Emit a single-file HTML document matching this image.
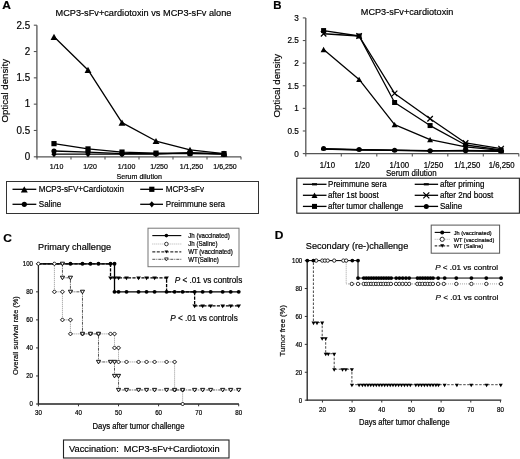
<!DOCTYPE html>
<html><head><meta charset="utf-8"><style>
html,body{margin:0;padding:0;background:#fff;}
svg{display:block;will-change:transform;filter:blur(0.35px);}
text{font-family:"Liberation Sans",sans-serif;stroke:#000;stroke-width:0.18px;}
</style></head><body>
<svg width="520" height="459" viewBox="0 0 520 459" font-family="Liberation Sans, sans-serif">
<rect width="520" height="459" fill="#fff"/>
<text transform="translate(2.2,9.3) scale(1.13,1)" font-size="10.6" font-weight="bold">A</text>
<text x="55.5" y="15.9" font-size="9.2" text-anchor="start" fill="#000" >MCP3-sFv+cardiotoxin vs MCP3-sFv alone</text>
<line x1="36.9" y1="25.2" x2="36.9" y2="157.3" stroke="#555" stroke-width="1.3" />
<line x1="36.3" y1="156.8" x2="241" y2="156.8" stroke="#555" stroke-width="1.3" />
<line x1="33.8" y1="156.8" x2="36.9" y2="156.8" stroke="#555" stroke-width="1.1" />
<text transform="translate(30.2,160.1) scale(1,1.08)" font-size="9.8" text-anchor="end">0</text>
<line x1="33.8" y1="130.48" x2="36.9" y2="130.48" stroke="#555" stroke-width="1.1" />
<text transform="translate(30.2,133.78) scale(1,1.08)" font-size="9.8" text-anchor="end">0.5</text>
<line x1="33.8" y1="104.16" x2="36.9" y2="104.16" stroke="#555" stroke-width="1.1" />
<text transform="translate(30.2,107.46) scale(1,1.08)" font-size="9.8" text-anchor="end">1</text>
<line x1="33.8" y1="77.84" x2="36.9" y2="77.84" stroke="#555" stroke-width="1.1" />
<text transform="translate(30.2,81.14) scale(1,1.08)" font-size="9.8" text-anchor="end">1.5</text>
<line x1="33.8" y1="51.52" x2="36.9" y2="51.52" stroke="#555" stroke-width="1.1" />
<text transform="translate(30.2,54.82) scale(1,1.08)" font-size="9.8" text-anchor="end">2</text>
<line x1="33.8" y1="25.2" x2="36.9" y2="25.2" stroke="#555" stroke-width="1.1" />
<text transform="translate(30.2,28.5) scale(1,1.08)" font-size="9.8" text-anchor="end">2.5</text>
<line x1="37" y1="156.8" x2="37" y2="159.6" stroke="#555" stroke-width="1.1" />
<line x1="71" y1="156.8" x2="71" y2="159.6" stroke="#555" stroke-width="1.1" />
<line x1="105" y1="156.8" x2="105" y2="159.6" stroke="#555" stroke-width="1.1" />
<line x1="139" y1="156.8" x2="139" y2="159.6" stroke="#555" stroke-width="1.1" />
<line x1="173" y1="156.8" x2="173" y2="159.6" stroke="#555" stroke-width="1.1" />
<line x1="207" y1="156.8" x2="207" y2="159.6" stroke="#555" stroke-width="1.1" />
<line x1="241" y1="156.8" x2="241" y2="159.6" stroke="#555" stroke-width="1.1" />
<text transform="translate(56.6,169) scale(1,1.08)" font-size="7" text-anchor="middle" fill="#000" >1/10</text>
<text transform="translate(90.1,169) scale(1,1.08)" font-size="7" text-anchor="middle" fill="#000" >1/20</text>
<text transform="translate(126.6,169) scale(1,1.08)" font-size="7" text-anchor="middle" fill="#000" >1/100</text>
<text transform="translate(159.1,169) scale(1,1.08)" font-size="7" text-anchor="middle" fill="#000" >1/250</text>
<text transform="translate(191.4,169) scale(1,1.08)" font-size="7" text-anchor="middle" fill="#000" >1/1,250</text>
<text transform="translate(225,169) scale(1,1.08)" font-size="7" text-anchor="middle" fill="#000" >1/6,250</text>
<text transform="translate(139.2,178.6) scale(1,1.12)" font-size="7.1" text-anchor="middle" fill="#000" >Serum dilution</text>
<text transform="translate(7.6,90.8) rotate(-90)" font-size="9.7" text-anchor="middle">Optical density</text>
<polyline points="54,154.17 88,154.17 122,154.17 156,154.17 190,152.59 224,154.17" fill="none" stroke="#000" stroke-width="1.3" stroke-linejoin="round" />
<polyline points="54,151.01 88,152.06 122,153.64 156,153.64 190,153.64 224,154.17" fill="none" stroke="#000" stroke-width="1.3" stroke-linejoin="round" />
<polyline points="54,143.64 88,148.9 122,152.06 156,153.12 190,153.12 224,153.64" fill="none" stroke="#000" stroke-width="1.3" stroke-linejoin="round" />
<polyline points="54,36.78 88,69.94 122,122.58 156,141.01 190,149.96 224,153.64" fill="none" stroke="#000" stroke-width="1.3" stroke-linejoin="round" />
<path d="M54,151.05L56.6,154.17L54,157.29L51.4,154.17Z" fill="#000" stroke="none" stroke-width="1"/>
<path d="M88,151.05L90.6,154.17L88,157.29L85.4,154.17Z" fill="#000" stroke="none" stroke-width="1"/>
<path d="M122,151.05L124.6,154.17L122,157.29L119.4,154.17Z" fill="#000" stroke="none" stroke-width="1"/>
<path d="M156,151.05L158.6,154.17L156,157.29L153.4,154.17Z" fill="#000" stroke="none" stroke-width="1"/>
<path d="M190,149.47L192.6,152.59L190,155.71L187.4,152.59Z" fill="#000" stroke="none" stroke-width="1"/>
<path d="M224,151.05L226.6,154.17L224,157.29L221.4,154.17Z" fill="#000" stroke="none" stroke-width="1"/>
<circle cx="54" cy="151.01" r="2.6" fill="#000" stroke="none" stroke-width="1"/>
<circle cx="88" cy="152.06" r="2.6" fill="#000" stroke="none" stroke-width="1"/>
<circle cx="122" cy="153.64" r="2.6" fill="#000" stroke="none" stroke-width="1"/>
<circle cx="156" cy="153.64" r="2.6" fill="#000" stroke="none" stroke-width="1"/>
<circle cx="190" cy="153.64" r="2.6" fill="#000" stroke="none" stroke-width="1"/>
<circle cx="224" cy="154.17" r="2.6" fill="#000" stroke="none" stroke-width="1"/>
<path d="M54,33.68L57.45,39.89L50.55,39.89Z" fill="#000" stroke="none" stroke-width="1"/>
<path d="M88,66.84L91.45,73.05L84.55,73.05Z" fill="#000" stroke="none" stroke-width="1"/>
<path d="M122,119.48L125.45,125.69L118.55,125.69Z" fill="#000" stroke="none" stroke-width="1"/>
<path d="M156,137.9L159.45,144.11L152.55,144.11Z" fill="#000" stroke="none" stroke-width="1"/>
<path d="M190,146.85L193.45,153.06L186.55,153.06Z" fill="#000" stroke="none" stroke-width="1"/>
<path d="M224,150.54L227.45,156.75L220.55,156.75Z" fill="#000" stroke="none" stroke-width="1"/>
<rect x="51.4" y="141.04" width="5.2" height="5.2" fill="#000" stroke="none" stroke-width="1"/>
<rect x="85.4" y="146.3" width="5.2" height="5.2" fill="#000" stroke="none" stroke-width="1"/>
<rect x="119.4" y="149.46" width="5.2" height="5.2" fill="#000" stroke="none" stroke-width="1"/>
<rect x="153.4" y="150.52" width="5.2" height="5.2" fill="#000" stroke="none" stroke-width="1"/>
<rect x="187.4" y="150.52" width="5.2" height="5.2" fill="#000" stroke="none" stroke-width="1"/>
<rect x="221.4" y="151.04" width="5.2" height="5.2" fill="#000" stroke="none" stroke-width="1"/>
<rect x="6.5" y="181.5" width="252" height="32" fill="none" stroke="#333" stroke-width="1"/>
<line x1="12.5" y1="189.3" x2="36.3" y2="189.3" stroke="#000" stroke-width="1.3" />
<path d="M24.3,186.2L27.75,192.41L20.85,192.41Z" fill="#000" stroke="none" stroke-width="1"/>
<text transform="translate(38.8,192) scale(1,1.12)" font-size="8.1" text-anchor="start" fill="#000" >MCP3-sFV+Cardiotoxin</text>
<line x1="140.2" y1="189.3" x2="163" y2="189.3" stroke="#000" stroke-width="1.3" />
<rect x="149.2" y="186.7" width="5.2" height="5.2" fill="#000" stroke="none" stroke-width="1"/>
<text transform="translate(165.8,192) scale(1,1.12)" font-size="8.1" text-anchor="start" fill="#000" >MCP3-sFv</text>
<line x1="12.5" y1="204.3" x2="36.3" y2="204.3" stroke="#000" stroke-width="1.3" />
<circle cx="24.3" cy="204.3" r="2.6" fill="#000" stroke="none" stroke-width="1"/>
<text transform="translate(38.8,207) scale(1,1.12)" font-size="8.1" text-anchor="start" fill="#000" >Saline</text>
<line x1="140.2" y1="204.3" x2="163" y2="204.3" stroke="#000" stroke-width="1.3" />
<path d="M151.8,201.18L154.4,204.3L151.8,207.42L149.2,204.3Z" fill="#000" stroke="none" stroke-width="1"/>
<text transform="translate(165.8,207) scale(1,1.12)" font-size="8.1" text-anchor="start" fill="#000" >Preimmune sera</text>
<text transform="translate(273.2,8.6) scale(1.1,1)" font-size="10.4" font-weight="bold">B</text>
<text x="360.8" y="15.4" font-size="9.15" text-anchor="start" fill="#000" >MCP3-sFv+cardiotoxin</text>
<line x1="305.8" y1="17.91" x2="305.8" y2="154.1" stroke="#555" stroke-width="1.3" />
<line x1="305.2" y1="153.6" x2="518.8" y2="153.6" stroke="#555" stroke-width="1.3" />
<line x1="302.8" y1="153.6" x2="305.8" y2="153.6" stroke="#555" stroke-width="1.1" />
<text x="298.9" y="156.5" font-size="8.2" text-anchor="end" fill="#000" >0</text>
<line x1="302.8" y1="130.98" x2="305.8" y2="130.98" stroke="#555" stroke-width="1.1" />
<text x="298.9" y="133.88" font-size="8.2" text-anchor="end" fill="#000" >0.5</text>
<line x1="302.8" y1="108.37" x2="305.8" y2="108.37" stroke="#555" stroke-width="1.1" />
<text x="298.9" y="111.27" font-size="8.2" text-anchor="end" fill="#000" >1</text>
<line x1="302.8" y1="85.75" x2="305.8" y2="85.75" stroke="#555" stroke-width="1.1" />
<text x="298.9" y="88.66" font-size="8.2" text-anchor="end" fill="#000" >1.5</text>
<line x1="302.8" y1="63.14" x2="305.8" y2="63.14" stroke="#555" stroke-width="1.1" />
<text x="298.9" y="66.04" font-size="8.2" text-anchor="end" fill="#000" >2</text>
<line x1="302.8" y1="40.53" x2="305.8" y2="40.53" stroke="#555" stroke-width="1.1" />
<text x="298.9" y="43.43" font-size="8.2" text-anchor="end" fill="#000" >2.5</text>
<line x1="302.8" y1="17.91" x2="305.8" y2="17.91" stroke="#555" stroke-width="1.1" />
<text x="298.9" y="20.81" font-size="8.2" text-anchor="end" fill="#000" >3</text>
<line x1="305.8" y1="153.6" x2="305.8" y2="156.4" stroke="#555" stroke-width="1.1" />
<line x1="341.3" y1="153.6" x2="341.3" y2="156.4" stroke="#555" stroke-width="1.1" />
<line x1="376.8" y1="153.6" x2="376.8" y2="156.4" stroke="#555" stroke-width="1.1" />
<line x1="412.3" y1="153.6" x2="412.3" y2="156.4" stroke="#555" stroke-width="1.1" />
<line x1="447.8" y1="153.6" x2="447.8" y2="156.4" stroke="#555" stroke-width="1.1" />
<line x1="483.3" y1="153.6" x2="483.3" y2="156.4" stroke="#555" stroke-width="1.1" />
<line x1="518.8" y1="153.6" x2="518.8" y2="156.4" stroke="#555" stroke-width="1.1" />
<text transform="translate(327.4,167.9) scale(1,1.1)" font-size="7.8" text-anchor="middle" fill="#000" >1/10</text>
<text transform="translate(362.2,167.9) scale(1,1.1)" font-size="7.8" text-anchor="middle" fill="#000" >1/20</text>
<text transform="translate(399.3,167.9) scale(1,1.1)" font-size="7.8" text-anchor="middle" fill="#000" >1/100</text>
<text transform="translate(433.5,167.9) scale(1,1.1)" font-size="7.8" text-anchor="middle" fill="#000" >1/250</text>
<text transform="translate(467.3,167.9) scale(1,1.1)" font-size="7.8" text-anchor="middle" fill="#000" >1/1,250</text>
<text transform="translate(501.7,167.9) scale(1,1.1)" font-size="7.8" text-anchor="middle" fill="#000" >1/6,250</text>
<text transform="translate(411.3,175.9) scale(1,1.1)" font-size="7.9" text-anchor="middle" fill="#000" >Serum dilution</text>
<text transform="translate(279.6,85.8) rotate(-90)" font-size="9.7" text-anchor="middle">Optical density</text>
<polyline points="323.6,149.08 359.1,149.53 394.6,150.43 430.1,150.89 465.6,150.89 501.1,151.34" fill="none" stroke="#000" stroke-width="1.3" stroke-linejoin="round" />
<polyline points="323.6,149.08 359.1,149.98 394.6,150.43 430.1,150.89 465.6,150.43 501.1,150.89" fill="none" stroke="#000" stroke-width="1.3" stroke-linejoin="round" />
<polyline points="323.6,148.62 359.1,149.53 394.6,150.21 430.1,150.66 465.6,150.66 501.1,150.89" fill="none" stroke="#000" stroke-width="1.3" stroke-linejoin="round" />
<polyline points="323.6,49.57 359.1,79.42 394.6,124.65 430.1,139.58 465.6,146.82 501.1,150.43" fill="none" stroke="#000" stroke-width="1.3" stroke-linejoin="round" />
<polyline points="323.6,30.57 359.1,36 394.6,102.49 430.1,125.56 465.6,145.01 501.1,149.98" fill="none" stroke="#000" stroke-width="1.3" stroke-linejoin="round" />
<polyline points="323.6,33.74 359.1,36 394.6,93.44 430.1,118.77 465.6,142.97 501.1,148.62" fill="none" stroke="#000" stroke-width="1.3" stroke-linejoin="round" />
<rect x="321.1" y="147.98" width="5" height="2.2" fill="#000" stroke="none" stroke-width="1"/>
<rect x="356.6" y="148.43" width="5" height="2.2" fill="#000" stroke="none" stroke-width="1"/>
<rect x="392.1" y="149.33" width="5" height="2.2" fill="#000" stroke="none" stroke-width="1"/>
<rect x="427.6" y="149.79" width="5" height="2.2" fill="#000" stroke="none" stroke-width="1"/>
<rect x="463.1" y="149.79" width="5" height="2.2" fill="#000" stroke="none" stroke-width="1"/>
<rect x="498.6" y="150.24" width="5" height="2.2" fill="#000" stroke="none" stroke-width="1"/>
<rect x="321.1" y="147.98" width="5" height="2.2" fill="#000" stroke="none" stroke-width="1"/>
<rect x="356.6" y="148.88" width="5" height="2.2" fill="#000" stroke="none" stroke-width="1"/>
<rect x="392.1" y="149.33" width="5" height="2.2" fill="#000" stroke="none" stroke-width="1"/>
<rect x="427.6" y="149.79" width="5" height="2.2" fill="#000" stroke="none" stroke-width="1"/>
<rect x="463.1" y="149.33" width="5" height="2.2" fill="#000" stroke="none" stroke-width="1"/>
<rect x="498.6" y="149.79" width="5" height="2.2" fill="#000" stroke="none" stroke-width="1"/>
<circle cx="323.6" cy="148.62" r="2.5" fill="#000" stroke="none" stroke-width="1"/>
<circle cx="359.1" cy="149.53" r="2.5" fill="#000" stroke="none" stroke-width="1"/>
<circle cx="394.6" cy="150.21" r="2.5" fill="#000" stroke="none" stroke-width="1"/>
<circle cx="430.1" cy="150.66" r="2.5" fill="#000" stroke="none" stroke-width="1"/>
<circle cx="465.6" cy="150.66" r="2.5" fill="#000" stroke="none" stroke-width="1"/>
<circle cx="501.1" cy="150.89" r="2.5" fill="#000" stroke="none" stroke-width="1"/>
<path d="M323.6,46.87L326.6,52.27L320.6,52.27Z" fill="#000" stroke="none" stroke-width="1"/>
<path d="M359.1,76.72L362.1,82.12L356.1,82.12Z" fill="#000" stroke="none" stroke-width="1"/>
<path d="M394.6,121.95L397.6,127.35L391.6,127.35Z" fill="#000" stroke="none" stroke-width="1"/>
<path d="M430.1,136.88L433.1,142.28L427.1,142.28Z" fill="#000" stroke="none" stroke-width="1"/>
<path d="M465.6,144.12L468.6,149.52L462.6,149.52Z" fill="#000" stroke="none" stroke-width="1"/>
<path d="M501.1,147.73L504.1,153.13L498.1,153.13Z" fill="#000" stroke="none" stroke-width="1"/>
<path d="M320.85,30.99L326.35,36.49M326.35,30.99L320.85,36.49" fill="none" stroke="#000" stroke-width="1.2"/>
<path d="M356.35,33.25L361.85,38.75M361.85,33.25L356.35,38.75" fill="none" stroke="#000" stroke-width="1.2"/>
<path d="M391.85,90.69L397.35,96.19M397.35,90.69L391.85,96.19" fill="none" stroke="#000" stroke-width="1.2"/>
<path d="M427.35,116.02L432.85,121.52M432.85,116.02L427.35,121.52" fill="none" stroke="#000" stroke-width="1.2"/>
<path d="M462.85,140.22L468.35,145.72M468.35,140.22L462.85,145.72" fill="none" stroke="#000" stroke-width="1.2"/>
<path d="M498.35,145.87L503.85,151.37M503.85,145.87L498.35,151.37" fill="none" stroke="#000" stroke-width="1.2"/>
<rect x="321.1" y="28.07" width="5" height="5" fill="#000" stroke="none" stroke-width="1"/>
<rect x="356.6" y="33.5" width="5" height="5" fill="#000" stroke="none" stroke-width="1"/>
<rect x="392.1" y="99.99" width="5" height="5" fill="#000" stroke="none" stroke-width="1"/>
<rect x="427.6" y="123.06" width="5" height="5" fill="#000" stroke="none" stroke-width="1"/>
<rect x="463.1" y="142.51" width="5" height="5" fill="#000" stroke="none" stroke-width="1"/>
<rect x="498.6" y="147.48" width="5" height="5" fill="#000" stroke="none" stroke-width="1"/>
<rect x="296.8" y="178.2" width="222.6" height="35" fill="none" stroke="#222" stroke-width="1.1"/>
<line x1="302.9" y1="184.3" x2="326.5" y2="184.3" stroke="#000" stroke-width="1.3" />
<rect x="312" y="183.2" width="5" height="2.2" fill="#000" stroke="none" stroke-width="1"/>
<text transform="translate(328.1,187.2) scale(1,1.1)" font-size="8" text-anchor="start" fill="#000" >Preimmune sera</text>
<line x1="414.7" y1="184.3" x2="438.1" y2="184.3" stroke="#000" stroke-width="1.3" />
<rect x="423.8" y="183.2" width="5" height="2.2" fill="#000" stroke="none" stroke-width="1"/>
<text transform="translate(440,187.2) scale(1,1.1)" font-size="8" text-anchor="start" fill="#000" >after priming</text>
<line x1="302.9" y1="195.3" x2="326.5" y2="195.3" stroke="#000" stroke-width="1.3" />
<path d="M314.5,192.6L317.5,198L311.5,198Z" fill="#000" stroke="none" stroke-width="1"/>
<text transform="translate(328.1,198.2) scale(1,1.1)" font-size="8" text-anchor="start" fill="#000" >after 1st boost</text>
<line x1="414.7" y1="195.3" x2="438.1" y2="195.3" stroke="#000" stroke-width="1.3" />
<path d="M423.3,192.3L429.3,198.3M429.3,192.3L423.3,198.3" fill="none" stroke="#000" stroke-width="1.2"/>
<text transform="translate(440,198.2) scale(1,1.1)" font-size="8" text-anchor="start" fill="#000" >after 2nd boost</text>
<line x1="302.9" y1="206.4" x2="326.5" y2="206.4" stroke="#000" stroke-width="1.3" />
<rect x="312" y="203.9" width="5" height="5" fill="#000" stroke="none" stroke-width="1"/>
<text transform="translate(328.1,209.3) scale(1,1.1)" font-size="8" text-anchor="start" fill="#000" >after tumor challenge</text>
<line x1="414.7" y1="206.4" x2="438.1" y2="206.4" stroke="#000" stroke-width="1.3" />
<circle cx="426.3" cy="206.4" r="2.5" fill="#000" stroke="none" stroke-width="1"/>
<text transform="translate(440,209.3) scale(1,1.1)" font-size="8" text-anchor="start" fill="#000" >Saline</text>
<text transform="translate(3.2,242.4) scale(1.13,1)" font-size="10.6" font-weight="bold">C</text>
<text x="38.1" y="250.4" font-size="9.13" text-anchor="start" fill="#000" >Primary challenge</text>
<line x1="38.4" y1="263.8" x2="38.4" y2="404.6" stroke="#222" stroke-width="1.3" />
<line x1="37.8" y1="404" x2="238.9" y2="404" stroke="#222" stroke-width="1.3" />
<line x1="36" y1="404" x2="38.4" y2="404" stroke="#333" stroke-width="1" />
<text transform="translate(33,406.3) scale(1,1.12)" font-size="6.1" text-anchor="end">0</text>
<line x1="36" y1="375.96" x2="38.4" y2="375.96" stroke="#333" stroke-width="1" />
<text transform="translate(33,378.26) scale(1,1.12)" font-size="6.1" text-anchor="end">20</text>
<line x1="36" y1="347.92" x2="38.4" y2="347.92" stroke="#333" stroke-width="1" />
<text transform="translate(33,350.22) scale(1,1.12)" font-size="6.1" text-anchor="end">40</text>
<line x1="36" y1="319.88" x2="38.4" y2="319.88" stroke="#333" stroke-width="1" />
<text transform="translate(33,322.18) scale(1,1.12)" font-size="6.1" text-anchor="end">60</text>
<line x1="36" y1="291.84" x2="38.4" y2="291.84" stroke="#333" stroke-width="1" />
<text transform="translate(33,294.14) scale(1,1.12)" font-size="6.1" text-anchor="end">80</text>
<line x1="36" y1="263.8" x2="38.4" y2="263.8" stroke="#333" stroke-width="1" />
<text transform="translate(33,266.1) scale(1,1.12)" font-size="6.1" text-anchor="end">100</text>
<line x1="38.4" y1="404" x2="38.4" y2="406.3" stroke="#333" stroke-width="1" />
<text transform="translate(38.4,415.3) scale(1,1.12)" font-size="6.2" text-anchor="middle">30</text>
<line x1="78.46" y1="404" x2="78.46" y2="406.3" stroke="#333" stroke-width="1" />
<text transform="translate(78.46,415.3) scale(1,1.12)" font-size="6.2" text-anchor="middle">40</text>
<line x1="118.52" y1="404" x2="118.52" y2="406.3" stroke="#333" stroke-width="1" />
<text transform="translate(118.52,415.3) scale(1,1.12)" font-size="6.2" text-anchor="middle">50</text>
<line x1="158.58" y1="404" x2="158.58" y2="406.3" stroke="#333" stroke-width="1" />
<text transform="translate(158.58,415.3) scale(1,1.12)" font-size="6.2" text-anchor="middle">60</text>
<line x1="198.64" y1="404" x2="198.64" y2="406.3" stroke="#333" stroke-width="1" />
<text transform="translate(198.64,415.3) scale(1,1.12)" font-size="6.2" text-anchor="middle">70</text>
<line x1="238.7" y1="404" x2="238.7" y2="406.3" stroke="#333" stroke-width="1" />
<text transform="translate(238.7,415.3) scale(1,1.12)" font-size="6.2" text-anchor="middle">80</text>
<text transform="translate(138.5,428.5) scale(1,1.18)" font-size="7.7" text-anchor="middle" fill="#000" >Days after tumor challenge</text>
<text transform="translate(18.4,335.6) rotate(-90)" font-size="7.4" text-anchor="middle">Overall survival rate (%)</text>
<polyline points="38.4,263.8 54.42,263.8 54.42,291.84 62.44,291.84 62.44,319.88 70.45,319.88 70.45,333.9 114.51,333.9 114.51,347.92 118.52,347.92 118.52,361.94 174.6,361.94 174.6,389.98 182.62,389.98 182.62,404 182.62,404" fill="none" stroke="#888" stroke-width="0.9" stroke-linejoin="round" stroke-dasharray="1,1"/>
<polyline points="38.4,263.8 62.44,263.8 62.44,277.82 70.45,277.82 70.45,291.84 82.47,291.84 82.47,333.9 98.49,333.9 98.49,361.94 114.51,361.94 114.51,375.96 118.52,375.96 118.52,389.98 238.7,389.98" fill="none" stroke="#444" stroke-width="0.9" stroke-linejoin="round" stroke-dasharray="3,1,1,1"/>
<polyline points="38.4,263.8 110.51,263.8 110.51,277.82 166.59,277.82 166.59,291.84 194.63,291.84 194.63,305.86 238.7,305.86" fill="none" stroke="#000" stroke-width="1.3" stroke-linejoin="round" stroke-dasharray="3.2,1.3"/>
<polyline points="38.4,263.8 114.51,263.8 114.51,291.84 238.7,291.84" fill="none" stroke="#000" stroke-width="1.3" stroke-linejoin="round" />
<path d="M38.4,261.8L40.4,263.8L38.4,265.8L36.4,263.8Z" fill="#fff" stroke="#111" stroke-width="1.0"/>
<path d="M54.42,261.8L56.42,263.8L54.42,265.8L52.42,263.8Z" fill="#fff" stroke="#111" stroke-width="1.0"/>
<path d="M54.42,289.84L56.42,291.84L54.42,293.84L52.42,291.84Z" fill="#fff" stroke="#111" stroke-width="1.0"/>
<path d="M62.44,289.84L64.44,291.84L62.44,293.84L60.44,291.84Z" fill="#fff" stroke="#111" stroke-width="1.0"/>
<path d="M62.44,317.88L64.44,319.88L62.44,321.88L60.44,319.88Z" fill="#fff" stroke="#111" stroke-width="1.0"/>
<path d="M70.45,317.88L72.45,319.88L70.45,321.88L68.45,319.88Z" fill="#fff" stroke="#111" stroke-width="1.0"/>
<path d="M70.45,331.9L72.45,333.9L70.45,335.9L68.45,333.9Z" fill="#fff" stroke="#111" stroke-width="1.0"/>
<path d="M82.47,331.9L84.47,333.9L82.47,335.9L80.47,333.9Z" fill="#fff" stroke="#111" stroke-width="1.0"/>
<path d="M90.48,331.9L92.48,333.9L90.48,335.9L88.48,333.9Z" fill="#fff" stroke="#111" stroke-width="1.0"/>
<path d="M98.49,331.9L100.49,333.9L98.49,335.9L96.49,333.9Z" fill="#fff" stroke="#111" stroke-width="1.0"/>
<path d="M110.51,331.9L112.51,333.9L110.51,335.9L108.51,333.9Z" fill="#fff" stroke="#111" stroke-width="1.0"/>
<path d="M114.51,331.9L116.51,333.9L114.51,335.9L112.51,333.9Z" fill="#fff" stroke="#111" stroke-width="1.0"/>
<path d="M114.51,345.92L116.51,347.92L114.51,349.92L112.51,347.92Z" fill="#fff" stroke="#111" stroke-width="1.0"/>
<path d="M118.52,345.92L120.52,347.92L118.52,349.92L116.52,347.92Z" fill="#fff" stroke="#111" stroke-width="1.0"/>
<path d="M118.52,359.94L120.52,361.94L118.52,363.94L116.52,361.94Z" fill="#fff" stroke="#111" stroke-width="1.0"/>
<path d="M126.53,359.94L128.53,361.94L126.53,363.94L124.53,361.94Z" fill="#fff" stroke="#111" stroke-width="1.0"/>
<path d="M138.55,359.94L140.55,361.94L138.55,363.94L136.55,361.94Z" fill="#fff" stroke="#111" stroke-width="1.0"/>
<path d="M146.56,359.94L148.56,361.94L146.56,363.94L144.56,361.94Z" fill="#fff" stroke="#111" stroke-width="1.0"/>
<path d="M154.57,359.94L156.57,361.94L154.57,363.94L152.57,361.94Z" fill="#fff" stroke="#111" stroke-width="1.0"/>
<path d="M166.59,359.94L168.59,361.94L166.59,363.94L164.59,361.94Z" fill="#fff" stroke="#111" stroke-width="1.0"/>
<path d="M174.6,359.94L176.6,361.94L174.6,363.94L172.6,361.94Z" fill="#fff" stroke="#111" stroke-width="1.0"/>
<path d="M174.6,387.98L176.6,389.98L174.6,391.98L172.6,389.98Z" fill="#fff" stroke="#111" stroke-width="1.0"/>
<path d="M182.62,387.98L184.62,389.98L182.62,391.98L180.62,389.98Z" fill="#fff" stroke="#111" stroke-width="1.0"/>
<path d="M182.62,402L184.62,404L182.62,406L180.62,404Z" fill="#fff" stroke="#111" stroke-width="1.0"/>
<path d="M62.44,265.76L64.54,262.19L60.34,262.19Z" fill="#fff" stroke="#111" stroke-width="1.0"/>
<path d="M62.44,279.78L64.54,276.21L60.34,276.21Z" fill="#fff" stroke="#111" stroke-width="1.0"/>
<path d="M70.45,279.78L72.55,276.21L68.35,276.21Z" fill="#fff" stroke="#111" stroke-width="1.0"/>
<path d="M70.45,293.8L72.55,290.23L68.35,290.23Z" fill="#fff" stroke="#111" stroke-width="1.0"/>
<path d="M82.47,293.8L84.57,290.23L80.37,290.23Z" fill="#fff" stroke="#111" stroke-width="1.0"/>
<path d="M82.47,335.86L84.57,332.29L80.37,332.29Z" fill="#fff" stroke="#111" stroke-width="1.0"/>
<path d="M90.48,335.86L92.58,332.29L88.38,332.29Z" fill="#fff" stroke="#111" stroke-width="1.0"/>
<path d="M98.49,335.86L100.59,332.29L96.39,332.29Z" fill="#fff" stroke="#111" stroke-width="1.0"/>
<path d="M98.49,363.9L100.59,360.33L96.39,360.33Z" fill="#fff" stroke="#111" stroke-width="1.0"/>
<path d="M110.51,363.9L112.61,360.33L108.41,360.33Z" fill="#fff" stroke="#111" stroke-width="1.0"/>
<path d="M114.51,363.9L116.61,360.33L112.41,360.33Z" fill="#fff" stroke="#111" stroke-width="1.0"/>
<path d="M114.51,377.92L116.61,374.35L112.41,374.35Z" fill="#fff" stroke="#111" stroke-width="1.0"/>
<path d="M118.52,377.92L120.62,374.35L116.42,374.35Z" fill="#fff" stroke="#111" stroke-width="1.0"/>
<path d="M118.52,391.94L120.62,388.37L116.42,388.37Z" fill="#fff" stroke="#111" stroke-width="1.0"/>
<path d="M126.53,391.94L128.63,388.37L124.43,388.37Z" fill="#fff" stroke="#111" stroke-width="1.0"/>
<path d="M138.55,391.94L140.65,388.37L136.45,388.37Z" fill="#fff" stroke="#111" stroke-width="1.0"/>
<path d="M146.56,391.94L148.66,388.37L144.46,388.37Z" fill="#fff" stroke="#111" stroke-width="1.0"/>
<path d="M154.57,391.94L156.67,388.37L152.47,388.37Z" fill="#fff" stroke="#111" stroke-width="1.0"/>
<path d="M166.59,391.94L168.69,388.37L164.49,388.37Z" fill="#fff" stroke="#111" stroke-width="1.0"/>
<path d="M174.6,391.94L176.7,388.37L172.5,388.37Z" fill="#fff" stroke="#111" stroke-width="1.0"/>
<path d="M182.62,391.94L184.72,388.37L180.52,388.37Z" fill="#fff" stroke="#111" stroke-width="1.0"/>
<path d="M194.63,391.94L196.73,388.37L192.53,388.37Z" fill="#fff" stroke="#111" stroke-width="1.0"/>
<path d="M202.65,391.94L204.75,388.37L200.55,388.37Z" fill="#fff" stroke="#111" stroke-width="1.0"/>
<path d="M210.66,391.94L212.76,388.37L208.56,388.37Z" fill="#fff" stroke="#111" stroke-width="1.0"/>
<path d="M222.68,391.94L224.78,388.37L220.58,388.37Z" fill="#fff" stroke="#111" stroke-width="1.0"/>
<path d="M230.69,391.94L232.79,388.37L228.59,388.37Z" fill="#fff" stroke="#111" stroke-width="1.0"/>
<path d="M238.7,391.94L240.8,388.37L236.6,388.37Z" fill="#fff" stroke="#111" stroke-width="1.0"/>
<path d="M110.51,280.14L112.81,276.46L108.21,276.46Z" fill="#000" stroke="none" stroke-width="1"/>
<path d="M114.51,280.14L116.81,276.46L112.21,276.46Z" fill="#000" stroke="none" stroke-width="1"/>
<path d="M118.52,280.14L120.82,276.46L116.22,276.46Z" fill="#000" stroke="none" stroke-width="1"/>
<path d="M126.53,280.14L128.83,276.46L124.23,276.46Z" fill="#000" stroke="none" stroke-width="1"/>
<path d="M138.55,280.14L140.85,276.46L136.25,276.46Z" fill="#000" stroke="none" stroke-width="1"/>
<path d="M146.56,280.14L148.86,276.46L144.26,276.46Z" fill="#000" stroke="none" stroke-width="1"/>
<path d="M154.57,280.14L156.87,276.46L152.27,276.46Z" fill="#000" stroke="none" stroke-width="1"/>
<path d="M166.59,280.14L168.89,276.46L164.29,276.46Z" fill="#000" stroke="none" stroke-width="1"/>
<path d="M194.63,308.18L196.93,304.5L192.33,304.5Z" fill="#000" stroke="none" stroke-width="1"/>
<path d="M202.65,308.18L204.95,304.5L200.35,304.5Z" fill="#000" stroke="none" stroke-width="1"/>
<path d="M210.66,308.18L212.96,304.5L208.36,304.5Z" fill="#000" stroke="none" stroke-width="1"/>
<path d="M222.68,308.18L224.98,304.5L220.38,304.5Z" fill="#000" stroke="none" stroke-width="1"/>
<path d="M230.69,308.18L232.99,304.5L228.39,304.5Z" fill="#000" stroke="none" stroke-width="1"/>
<path d="M238.7,308.18L241,304.5L236.4,304.5Z" fill="#000" stroke="none" stroke-width="1"/>
<circle cx="70.45" cy="263.8" r="1.95" fill="#000" stroke="none" stroke-width="1"/>
<circle cx="82.47" cy="263.8" r="1.95" fill="#000" stroke="none" stroke-width="1"/>
<circle cx="90.48" cy="263.8" r="1.95" fill="#000" stroke="none" stroke-width="1"/>
<circle cx="98.49" cy="263.8" r="1.95" fill="#000" stroke="none" stroke-width="1"/>
<circle cx="110.51" cy="263.8" r="1.95" fill="#000" stroke="none" stroke-width="1"/>
<circle cx="114.51" cy="263.8" r="1.95" fill="#000" stroke="none" stroke-width="1"/>
<circle cx="114.51" cy="291.84" r="1.95" fill="#000" stroke="none" stroke-width="1"/>
<circle cx="118.52" cy="291.84" r="1.95" fill="#000" stroke="none" stroke-width="1"/>
<circle cx="126.53" cy="291.84" r="1.95" fill="#000" stroke="none" stroke-width="1"/>
<circle cx="138.55" cy="291.84" r="1.95" fill="#000" stroke="none" stroke-width="1"/>
<circle cx="146.56" cy="291.84" r="1.95" fill="#000" stroke="none" stroke-width="1"/>
<circle cx="154.57" cy="291.84" r="1.95" fill="#000" stroke="none" stroke-width="1"/>
<circle cx="166.59" cy="291.84" r="1.95" fill="#000" stroke="none" stroke-width="1"/>
<circle cx="174.6" cy="291.84" r="1.95" fill="#000" stroke="none" stroke-width="1"/>
<circle cx="182.62" cy="291.84" r="1.95" fill="#000" stroke="none" stroke-width="1"/>
<circle cx="194.63" cy="291.84" r="1.95" fill="#000" stroke="none" stroke-width="1"/>
<circle cx="202.65" cy="291.84" r="1.95" fill="#000" stroke="none" stroke-width="1"/>
<circle cx="210.66" cy="291.84" r="1.95" fill="#000" stroke="none" stroke-width="1"/>
<circle cx="222.68" cy="291.84" r="1.95" fill="#000" stroke="none" stroke-width="1"/>
<circle cx="230.69" cy="291.84" r="1.95" fill="#000" stroke="none" stroke-width="1"/>
<circle cx="238.7" cy="291.84" r="1.95" fill="#000" stroke="none" stroke-width="1"/>
<rect x="148" y="228.2" width="91" height="38.5" fill="none" stroke="#777" stroke-width="1"/>
<line x1="152.3" y1="235.6" x2="181.3" y2="235.6" stroke="#000" stroke-width="1.1" />
<circle cx="166.4" cy="235.6" r="1.8" fill="#000" stroke="none" stroke-width="0.9"/>
<text transform="translate(188.2,238) scale(1,1.15)" font-size="6.15" text-anchor="start" fill="#000" >Jh (vaccinated)</text>
<line x1="152.3" y1="244" x2="181.3" y2="244" stroke="#aaa" stroke-width="0.9" stroke-dasharray="1,1"/>
<circle cx="166.4" cy="244" r="1.8" fill="#fff" stroke="#222" stroke-width="0.9"/>
<text transform="translate(188.2,246.4) scale(1,1.15)" font-size="6.15" text-anchor="start" fill="#000" >Jh (Saline)</text>
<line x1="152.3" y1="251.9" x2="181.3" y2="251.9" stroke="#000" stroke-width="1" stroke-dasharray="3,1.5"/>
<path d="M166.4,253.58L168.2,250.52L164.6,250.52Z" fill="#000" stroke="none" stroke-width="0.9"/>
<text transform="translate(188.2,254.3) scale(1,1.15)" font-size="6.15" text-anchor="start" fill="#000" >WT (vaccinated)</text>
<line x1="152.3" y1="259.3" x2="181.3" y2="259.3" stroke="#444" stroke-width="0.9" stroke-dasharray="3,1,1,1"/>
<path d="M166.4,260.98L168.2,257.92L164.6,257.92Z" fill="#fff" stroke="#222" stroke-width="0.9"/>
<text transform="translate(188.2,261.7) scale(1,1.15)" font-size="6.15" text-anchor="start" fill="#000" >WT(Saline)</text>
<text x="174.7" y="283.2" font-size="8.2"><tspan font-style="italic">P</tspan> &lt; .01 vs controls</text>
<text x="170.2" y="320.5" font-size="8.2"><tspan font-style="italic">P</tspan> &lt; .01 vs controls</text>
<rect x="63.5" y="440" width="165.5" height="18" fill="none" stroke="#222" stroke-width="1.1"/>
<text x="69" y="452.4" font-size="9.26" text-anchor="start" fill="#000" >Vaccination:&#160; MCP3-sFv+Cardiotoxin</text>
<text transform="translate(274.8,239.4) scale(1.13,1)" font-size="10.6" font-weight="bold">D</text>
<text x="305.8" y="248.9" font-size="9.15" text-anchor="start" fill="#000" >Secondary (re-)challenge</text>
<line x1="307.2" y1="260.6" x2="307.2" y2="400.8" stroke="#222" stroke-width="1.3" />
<line x1="306.6" y1="400.2" x2="501.3" y2="400.2" stroke="#222" stroke-width="1.3" />
<line x1="304.8" y1="400.2" x2="307.2" y2="400.2" stroke="#333" stroke-width="1" />
<text transform="translate(302.2,402.5) scale(1,1.12)" font-size="6.1" text-anchor="end">0</text>
<line x1="304.8" y1="372.28" x2="307.2" y2="372.28" stroke="#333" stroke-width="1" />
<text transform="translate(302.2,374.58) scale(1,1.12)" font-size="6.1" text-anchor="end">20</text>
<line x1="304.8" y1="344.36" x2="307.2" y2="344.36" stroke="#333" stroke-width="1" />
<text transform="translate(302.2,346.66) scale(1,1.12)" font-size="6.1" text-anchor="end">40</text>
<line x1="304.8" y1="316.44" x2="307.2" y2="316.44" stroke="#333" stroke-width="1" />
<text transform="translate(302.2,318.74) scale(1,1.12)" font-size="6.1" text-anchor="end">60</text>
<line x1="304.8" y1="288.52" x2="307.2" y2="288.52" stroke="#333" stroke-width="1" />
<text transform="translate(302.2,290.82) scale(1,1.12)" font-size="6.1" text-anchor="end">80</text>
<line x1="304.8" y1="260.6" x2="307.2" y2="260.6" stroke="#333" stroke-width="1" />
<text transform="translate(302.2,262.9) scale(1,1.12)" font-size="6.1" text-anchor="end">100</text>
<line x1="322.44" y1="400.2" x2="322.44" y2="402.5" stroke="#333" stroke-width="1" />
<text transform="translate(322.44,411.5) scale(1,1.12)" font-size="6.2" text-anchor="middle">20</text>
<line x1="352.11" y1="400.2" x2="352.11" y2="402.5" stroke="#333" stroke-width="1" />
<text transform="translate(352.11,411.5) scale(1,1.12)" font-size="6.2" text-anchor="middle">30</text>
<line x1="381.78" y1="400.2" x2="381.78" y2="402.5" stroke="#333" stroke-width="1" />
<text transform="translate(381.78,411.5) scale(1,1.12)" font-size="6.2" text-anchor="middle">40</text>
<line x1="411.45" y1="400.2" x2="411.45" y2="402.5" stroke="#333" stroke-width="1" />
<text transform="translate(411.45,411.5) scale(1,1.12)" font-size="6.2" text-anchor="middle">50</text>
<line x1="441.12" y1="400.2" x2="441.12" y2="402.5" stroke="#333" stroke-width="1" />
<text transform="translate(441.12,411.5) scale(1,1.12)" font-size="6.2" text-anchor="middle">60</text>
<line x1="470.79" y1="400.2" x2="470.79" y2="402.5" stroke="#333" stroke-width="1" />
<text transform="translate(470.79,411.5) scale(1,1.12)" font-size="6.2" text-anchor="middle">70</text>
<line x1="500.46" y1="400.2" x2="500.46" y2="402.5" stroke="#333" stroke-width="1" />
<text transform="translate(500.46,411.5) scale(1,1.12)" font-size="6.2" text-anchor="middle">80</text>
<text transform="translate(404.3,424.8) scale(1,1.18)" font-size="7.6" text-anchor="middle" fill="#000" >Days after tumor challenge</text>
<text transform="translate(285,330.7) rotate(-90)" font-size="7.7" text-anchor="middle">Tumor free (%)</text>
<polyline points="307.3,260.6 346.2,260.6 346.2,283.91 501.1,283.91" fill="none" stroke="#999" stroke-width="0.9" stroke-linejoin="round" stroke-dasharray="1,1"/>
<polyline points="307.3,260.6 313.4,260.6 313.4,322.58 322.2,322.58 322.2,338.22 325.7,338.22 325.7,353.71 334.2,353.71 334.2,369.21 351.9,369.21 351.9,384.7 500.8,384.7" fill="none" stroke="#333" stroke-width="0.9" stroke-linejoin="round" stroke-dasharray="2.5,1.5"/>
<polyline points="307.3,260.6 358,260.6 358,278.05 501.1,278.05" fill="none" stroke="#000" stroke-width="1" stroke-linejoin="round" />
<circle cx="316.2" cy="260.6" r="1.7" fill="#fff" stroke="#111" stroke-width="0.85"/>
<circle cx="322.3" cy="260.6" r="1.7" fill="#fff" stroke="#111" stroke-width="0.85"/>
<circle cx="324.9" cy="260.6" r="1.7" fill="#fff" stroke="#111" stroke-width="0.85"/>
<circle cx="327.7" cy="260.6" r="1.7" fill="#fff" stroke="#111" stroke-width="0.85"/>
<circle cx="334.2" cy="260.6" r="1.7" fill="#fff" stroke="#111" stroke-width="0.85"/>
<circle cx="343.4" cy="260.6" r="1.7" fill="#fff" stroke="#111" stroke-width="0.85"/>
<circle cx="346.2" cy="260.6" r="1.7" fill="#fff" stroke="#111" stroke-width="0.85"/>
<circle cx="351.8" cy="283.91" r="1.7" fill="#fff" stroke="#111" stroke-width="0.85"/>
<circle cx="358" cy="283.91" r="1.7" fill="#fff" stroke="#111" stroke-width="0.85"/>
<circle cx="363.7" cy="283.91" r="1.7" fill="#fff" stroke="#111" stroke-width="0.85"/>
<circle cx="366.17" cy="283.91" r="1.7" fill="#fff" stroke="#111" stroke-width="0.85"/>
<circle cx="368.65" cy="283.91" r="1.7" fill="#fff" stroke="#111" stroke-width="0.85"/>
<circle cx="371.12" cy="283.91" r="1.7" fill="#fff" stroke="#111" stroke-width="0.85"/>
<circle cx="373.59" cy="283.91" r="1.7" fill="#fff" stroke="#111" stroke-width="0.85"/>
<circle cx="376.06" cy="283.91" r="1.7" fill="#fff" stroke="#111" stroke-width="0.85"/>
<circle cx="378.54" cy="283.91" r="1.7" fill="#fff" stroke="#111" stroke-width="0.85"/>
<circle cx="381.01" cy="283.91" r="1.7" fill="#fff" stroke="#111" stroke-width="0.85"/>
<circle cx="383.48" cy="283.91" r="1.7" fill="#fff" stroke="#111" stroke-width="0.85"/>
<circle cx="385.95" cy="283.91" r="1.7" fill="#fff" stroke="#111" stroke-width="0.85"/>
<circle cx="388.43" cy="283.91" r="1.7" fill="#fff" stroke="#111" stroke-width="0.85"/>
<circle cx="390.9" cy="283.91" r="1.7" fill="#fff" stroke="#111" stroke-width="0.85"/>
<circle cx="396" cy="283.91" r="1.7" fill="#fff" stroke="#111" stroke-width="0.85"/>
<circle cx="399.3" cy="283.91" r="1.7" fill="#fff" stroke="#111" stroke-width="0.85"/>
<circle cx="402.6" cy="283.91" r="1.7" fill="#fff" stroke="#111" stroke-width="0.85"/>
<circle cx="405.9" cy="283.91" r="1.7" fill="#fff" stroke="#111" stroke-width="0.85"/>
<circle cx="409.2" cy="283.91" r="1.7" fill="#fff" stroke="#111" stroke-width="0.85"/>
<circle cx="417.3" cy="283.91" r="1.7" fill="#fff" stroke="#111" stroke-width="0.85"/>
<circle cx="419.9" cy="283.91" r="1.7" fill="#fff" stroke="#111" stroke-width="0.85"/>
<circle cx="422.5" cy="283.91" r="1.7" fill="#fff" stroke="#111" stroke-width="0.85"/>
<circle cx="425.1" cy="283.91" r="1.7" fill="#fff" stroke="#111" stroke-width="0.85"/>
<circle cx="427.7" cy="283.91" r="1.7" fill="#fff" stroke="#111" stroke-width="0.85"/>
<circle cx="430.3" cy="283.91" r="1.7" fill="#fff" stroke="#111" stroke-width="0.85"/>
<circle cx="432.9" cy="283.91" r="1.7" fill="#fff" stroke="#111" stroke-width="0.85"/>
<circle cx="438.1" cy="283.91" r="1.7" fill="#fff" stroke="#111" stroke-width="0.85"/>
<circle cx="443.8" cy="283.91" r="1.7" fill="#fff" stroke="#111" stroke-width="0.85"/>
<circle cx="456.3" cy="283.91" r="1.7" fill="#fff" stroke="#111" stroke-width="0.85"/>
<circle cx="471.4" cy="283.91" r="1.7" fill="#fff" stroke="#111" stroke-width="0.85"/>
<circle cx="486.3" cy="283.91" r="1.7" fill="#fff" stroke="#111" stroke-width="0.85"/>
<circle cx="501.1" cy="283.91" r="1.7" fill="#fff" stroke="#111" stroke-width="0.85"/>
<path d="M313.5,325.16L315.5,321.56L311.5,321.56Z" fill="#000" stroke="none" stroke-width="1"/>
<path d="M317,325.16L319,321.56L315,321.56Z" fill="#000" stroke="none" stroke-width="1"/>
<path d="M322.2,325.16L324.2,321.56L320.2,321.56Z" fill="#000" stroke="none" stroke-width="1"/>
<path d="M322.2,340.8L324.2,337.2L320.2,337.2Z" fill="#000" stroke="none" stroke-width="1"/>
<path d="M325.7,340.8L327.7,337.2L323.7,337.2Z" fill="#000" stroke="none" stroke-width="1"/>
<path d="M325.7,356.29L327.7,352.69L323.7,352.69Z" fill="#000" stroke="none" stroke-width="1"/>
<path d="M328.3,356.29L330.3,352.69L326.3,352.69Z" fill="#000" stroke="none" stroke-width="1"/>
<path d="M334.2,356.29L336.2,352.69L332.2,352.69Z" fill="#000" stroke="none" stroke-width="1"/>
<path d="M334.2,371.79L336.2,368.19L332.2,368.19Z" fill="#000" stroke="none" stroke-width="1"/>
<path d="M342.5,371.79L344.5,368.19L340.5,368.19Z" fill="#000" stroke="none" stroke-width="1"/>
<path d="M345.8,371.79L347.8,368.19L343.8,368.19Z" fill="#000" stroke="none" stroke-width="1"/>
<path d="M351.9,371.79L353.9,368.19L349.9,368.19Z" fill="#000" stroke="none" stroke-width="1"/>
<path d="M351.9,387.28L353.9,383.68L349.9,383.68Z" fill="#000" stroke="none" stroke-width="1"/>
<path d="M359.1,387.28L361.1,383.68L357.1,383.68Z" fill="#000" stroke="none" stroke-width="1"/>
<path d="M362.4,387.28L364.4,383.68L360.4,383.68Z" fill="#000" stroke="none" stroke-width="1"/>
<path d="M365.18,387.28L367.18,383.68L363.18,383.68Z" fill="#000" stroke="none" stroke-width="1"/>
<path d="M367.96,387.28L369.96,383.68L365.96,383.68Z" fill="#000" stroke="none" stroke-width="1"/>
<path d="M370.75,387.28L372.75,383.68L368.75,383.68Z" fill="#000" stroke="none" stroke-width="1"/>
<path d="M373.53,387.28L375.53,383.68L371.53,383.68Z" fill="#000" stroke="none" stroke-width="1"/>
<path d="M376.31,387.28L378.31,383.68L374.31,383.68Z" fill="#000" stroke="none" stroke-width="1"/>
<path d="M379.09,387.28L381.09,383.68L377.09,383.68Z" fill="#000" stroke="none" stroke-width="1"/>
<path d="M381.87,387.28L383.87,383.68L379.87,383.68Z" fill="#000" stroke="none" stroke-width="1"/>
<path d="M384.65,387.28L386.65,383.68L382.65,383.68Z" fill="#000" stroke="none" stroke-width="1"/>
<path d="M387.44,387.28L389.44,383.68L385.44,383.68Z" fill="#000" stroke="none" stroke-width="1"/>
<path d="M390.22,387.28L392.22,383.68L388.22,383.68Z" fill="#000" stroke="none" stroke-width="1"/>
<path d="M393,387.28L395,383.68L391,383.68Z" fill="#000" stroke="none" stroke-width="1"/>
<path d="M395.7,387.28L397.7,383.68L393.7,383.68Z" fill="#000" stroke="none" stroke-width="1"/>
<path d="M398.62,387.28L400.62,383.68L396.62,383.68Z" fill="#000" stroke="none" stroke-width="1"/>
<path d="M401.54,387.28L403.54,383.68L399.54,383.68Z" fill="#000" stroke="none" stroke-width="1"/>
<path d="M404.46,387.28L406.46,383.68L402.46,383.68Z" fill="#000" stroke="none" stroke-width="1"/>
<path d="M407.38,387.28L409.38,383.68L405.38,383.68Z" fill="#000" stroke="none" stroke-width="1"/>
<path d="M410.3,387.28L412.3,383.68L408.3,383.68Z" fill="#000" stroke="none" stroke-width="1"/>
<path d="M415.8,387.28L417.8,383.68L413.8,383.68Z" fill="#000" stroke="none" stroke-width="1"/>
<path d="M418.67,387.28L420.67,383.68L416.67,383.68Z" fill="#000" stroke="none" stroke-width="1"/>
<path d="M421.54,387.28L423.54,383.68L419.54,383.68Z" fill="#000" stroke="none" stroke-width="1"/>
<path d="M424.41,387.28L426.41,383.68L422.41,383.68Z" fill="#000" stroke="none" stroke-width="1"/>
<path d="M427.29,387.28L429.29,383.68L425.29,383.68Z" fill="#000" stroke="none" stroke-width="1"/>
<path d="M430.16,387.28L432.16,383.68L428.16,383.68Z" fill="#000" stroke="none" stroke-width="1"/>
<path d="M433.03,387.28L435.03,383.68L431.03,383.68Z" fill="#000" stroke="none" stroke-width="1"/>
<path d="M435.9,387.28L437.9,383.68L433.9,383.68Z" fill="#000" stroke="none" stroke-width="1"/>
<path d="M438.5,387.28L440.5,383.68L436.5,383.68Z" fill="#000" stroke="none" stroke-width="1"/>
<path d="M444.6,387.28L446.6,383.68L442.6,383.68Z" fill="#000" stroke="none" stroke-width="1"/>
<path d="M456.9,387.28L458.9,383.68L454.9,383.68Z" fill="#000" stroke="none" stroke-width="1"/>
<path d="M471.2,387.28L473.2,383.68L469.2,383.68Z" fill="#000" stroke="none" stroke-width="1"/>
<path d="M486.6,387.28L488.6,383.68L484.6,383.68Z" fill="#000" stroke="none" stroke-width="1"/>
<path d="M500.8,387.28L502.8,383.68L498.8,383.68Z" fill="#000" stroke="none" stroke-width="1"/>
<circle cx="307.3" cy="260.6" r="1.9" fill="#000" stroke="none" stroke-width="1"/>
<circle cx="313.4" cy="260.6" r="1.9" fill="#000" stroke="none" stroke-width="1"/>
<circle cx="352.3" cy="260.6" r="1.9" fill="#000" stroke="none" stroke-width="1"/>
<circle cx="358" cy="260.6" r="1.9" fill="#000" stroke="none" stroke-width="1"/>
<circle cx="358" cy="278.05" r="1.9" fill="#000" stroke="none" stroke-width="1"/>
<circle cx="363.8" cy="278.05" r="1.9" fill="#000" stroke="none" stroke-width="1"/>
<circle cx="366.29" cy="278.05" r="1.9" fill="#000" stroke="none" stroke-width="1"/>
<circle cx="368.78" cy="278.05" r="1.9" fill="#000" stroke="none" stroke-width="1"/>
<circle cx="371.27" cy="278.05" r="1.9" fill="#000" stroke="none" stroke-width="1"/>
<circle cx="373.76" cy="278.05" r="1.9" fill="#000" stroke="none" stroke-width="1"/>
<circle cx="376.25" cy="278.05" r="1.9" fill="#000" stroke="none" stroke-width="1"/>
<circle cx="378.75" cy="278.05" r="1.9" fill="#000" stroke="none" stroke-width="1"/>
<circle cx="381.24" cy="278.05" r="1.9" fill="#000" stroke="none" stroke-width="1"/>
<circle cx="383.73" cy="278.05" r="1.9" fill="#000" stroke="none" stroke-width="1"/>
<circle cx="386.22" cy="278.05" r="1.9" fill="#000" stroke="none" stroke-width="1"/>
<circle cx="388.71" cy="278.05" r="1.9" fill="#000" stroke="none" stroke-width="1"/>
<circle cx="391.2" cy="278.05" r="1.9" fill="#000" stroke="none" stroke-width="1"/>
<circle cx="396.2" cy="278.05" r="1.9" fill="#000" stroke="none" stroke-width="1"/>
<circle cx="399.45" cy="278.05" r="1.9" fill="#000" stroke="none" stroke-width="1"/>
<circle cx="402.7" cy="278.05" r="1.9" fill="#000" stroke="none" stroke-width="1"/>
<circle cx="405.95" cy="278.05" r="1.9" fill="#000" stroke="none" stroke-width="1"/>
<circle cx="409.2" cy="278.05" r="1.9" fill="#000" stroke="none" stroke-width="1"/>
<circle cx="417.5" cy="278.05" r="1.9" fill="#000" stroke="none" stroke-width="1"/>
<circle cx="420.08" cy="278.05" r="1.9" fill="#000" stroke="none" stroke-width="1"/>
<circle cx="422.67" cy="278.05" r="1.9" fill="#000" stroke="none" stroke-width="1"/>
<circle cx="425.25" cy="278.05" r="1.9" fill="#000" stroke="none" stroke-width="1"/>
<circle cx="427.83" cy="278.05" r="1.9" fill="#000" stroke="none" stroke-width="1"/>
<circle cx="430.42" cy="278.05" r="1.9" fill="#000" stroke="none" stroke-width="1"/>
<circle cx="433" cy="278.05" r="1.9" fill="#000" stroke="none" stroke-width="1"/>
<circle cx="438.2" cy="278.05" r="1.9" fill="#000" stroke="none" stroke-width="1"/>
<circle cx="444.7" cy="278.05" r="1.9" fill="#000" stroke="none" stroke-width="1"/>
<circle cx="456.3" cy="278.05" r="1.9" fill="#000" stroke="none" stroke-width="1"/>
<circle cx="471.4" cy="278.05" r="1.9" fill="#000" stroke="none" stroke-width="1"/>
<circle cx="486.3" cy="278.05" r="1.9" fill="#000" stroke="none" stroke-width="1"/>
<circle cx="501.1" cy="278.05" r="1.9" fill="#000" stroke="none" stroke-width="1"/>
<rect x="431.2" y="225.1" width="68.4" height="28.1" fill="none" stroke="#555" stroke-width="1"/>
<line x1="434.7" y1="232.4" x2="450.3" y2="232.4" stroke="#000" stroke-width="1.1" />
<circle cx="442.2" cy="232.4" r="2" fill="#000" stroke="none" stroke-width="1.0"/>
<text transform="translate(453.7,234.9) scale(1,1.12)" font-size="5.6" text-anchor="start" fill="#000" >Jh (vaccinated)</text>
<line x1="434.7" y1="239.3" x2="450.3" y2="239.3" stroke="#aaa" stroke-width="0.9" stroke-dasharray="1,1"/>
<circle cx="442.2" cy="239.3" r="2.1" fill="#fff" stroke="#222" stroke-width="1.0"/>
<text transform="translate(453.7,241.8) scale(1,1.12)" font-size="5.6" text-anchor="start" fill="#000" >WT (vaccinated)</text>
<line x1="434.7" y1="245.9" x2="450.3" y2="245.9" stroke="#000" stroke-width="1" stroke-dasharray="2.5,1.5"/>
<path d="M442.2,247.77L444.2,244.37L440.2,244.37Z" fill="#000" stroke="none" stroke-width="1.0"/>
<text transform="translate(453.7,248.4) scale(1,1.12)" font-size="5.6" text-anchor="start" fill="#000" >WT (Saline)</text>
<text x="435.2" y="270.2" font-size="8.1"><tspan font-style="italic">P</tspan> &lt; .01 vs control</text>
<text x="435.6" y="299.8" font-size="8.1"><tspan font-style="italic">P</tspan> &lt; .01 vs control</text>
</svg>
</body></html>
